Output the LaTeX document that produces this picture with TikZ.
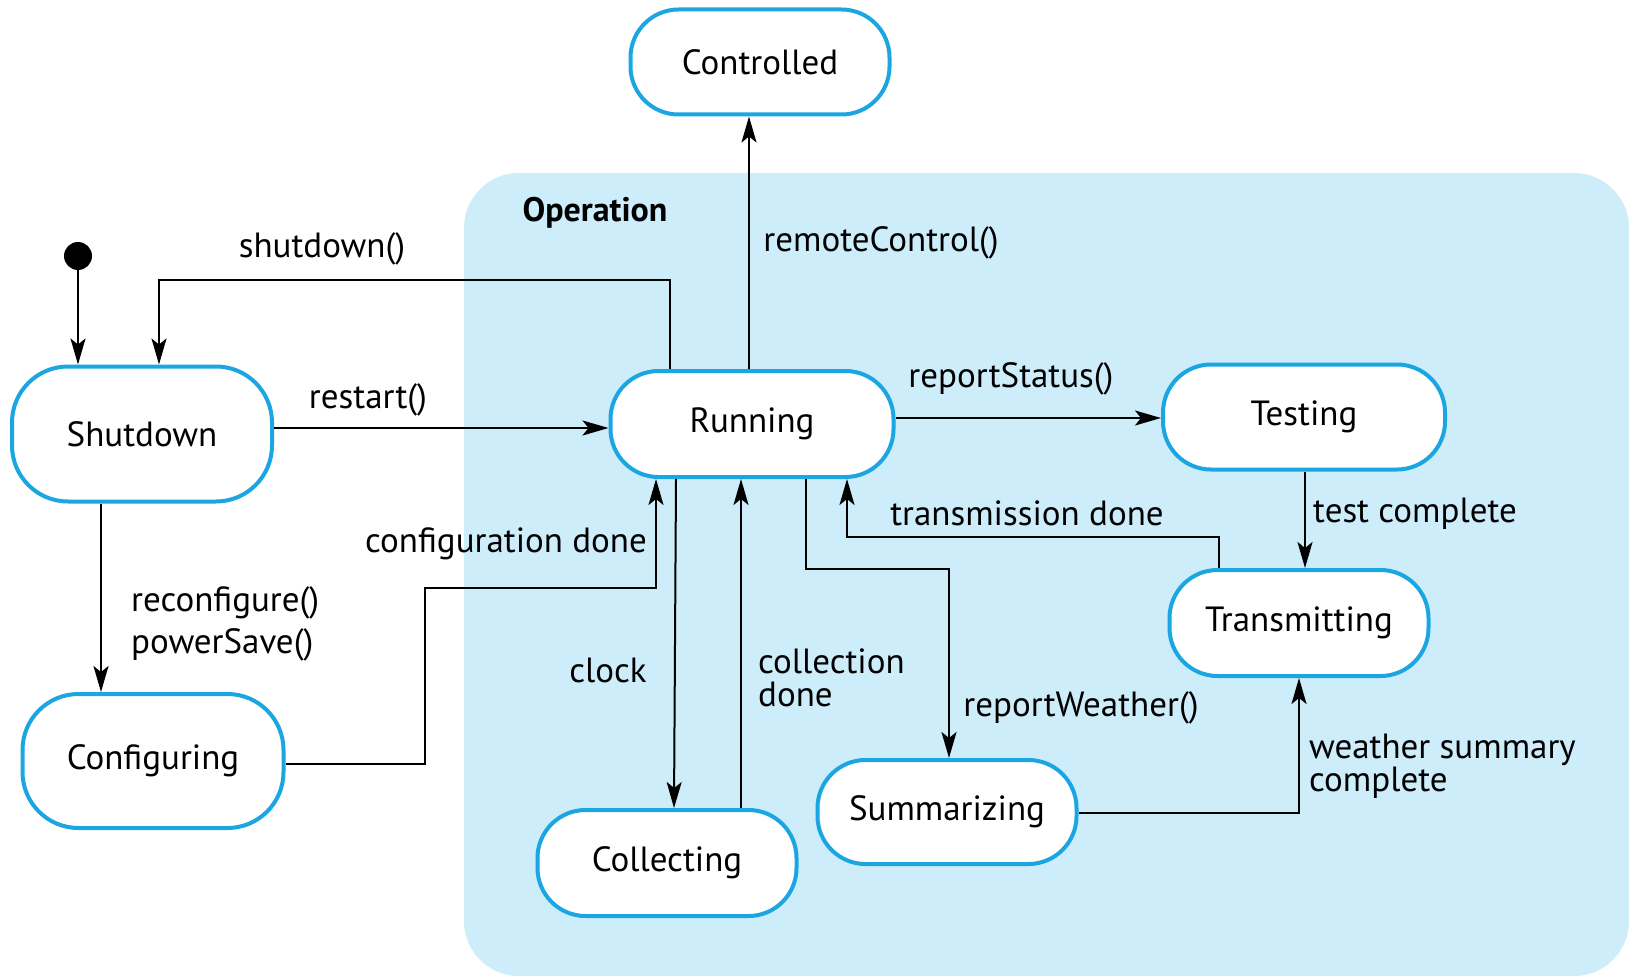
\documentclass[tikz,border=0pt]{standalone}
\usepackage{fontspec}
\setmainfont{PT Sans}
\usetikzlibrary{arrows.meta}
\definecolor{stateblue}{HTML}{1BA6E2}
\definecolor{opfill}{HTML}{CCEDF9}
\tikzset{
  statebox/.style={draw=stateblue, line width=4pt, fill=white, rounded corners=48pt,
    minimum width=259pt, minimum height=105pt, inner sep=0pt,
    font=\fontsize{35}{40}\selectfont},
  lbl/.style={font=\fontsize{35}{33}\selectfont, inner sep=0pt},
  conn/.style={line width=2pt, -{Stealth[length=26pt,width=15pt,inset=6pt]}},
  plain/.style={line width=2pt}
}
\begin{document}
\begin{tikzpicture}[x=1pt,y=-1pt]
\useasboundingbox (0,0) rectangle (1629,976);
% Operation superstate
\fill[opfill, rounded corners=55pt] (464,173) rectangle (1629,976);
\node[font=\fontsize{34}{36}\selectfont\bfseries, inner sep=0pt] (optitle) at (595,213) {Operation};

% states
\node[circle, fill=black, minimum size=28pt, inner sep=0pt] (init) at (78,256) {};
\node[statebox] (controlled) at (760,62) {Controlled};
\node[statebox, minimum width=260pt, minimum height=135pt, rounded corners=56pt] (shutdown) at (142,434) {Shutdown};
\node[statebox, minimum width=283pt, minimum height=106pt] (running) at (752,424) {Running};
\node[statebox, minimum width=282pt] (testing) at (1304,417) {Testing};
\node[statebox, minimum height=106pt] (transmitting) at (1299,623) {Transmitting};
\node[statebox, minimum width=261pt, minimum height=134pt, rounded corners=56pt] (configuring) at (153,761) {Configuring};
\node[statebox, minimum height=106pt] (collecting) at (667,863) {Collecting};
\node[statebox, minimum height=104pt] (summarizing) at (947,812) {Summarizing};

% connectors
\draw[conn] (init) -- (init |- shutdown.north);
\draw[conn] (running.north -| 670,0) -- (670,280) -- (159,280) -- (shutdown.north -| 159,0);
\draw[conn] (shutdown.east |- 0,428) -- (running.west |- 0,428);
\draw[conn] (running.north -| 749,0) -- (controlled.south -| 749,0);
\draw[conn] (running.east |- 0,418) -- (testing.west |- 0,418);
\draw[conn] (testing.south -| 1305,0) -- (transmitting.north -| 1305,0);
\draw[conn] (transmitting.north -| 1219,0) -- (1219,537) -- (847,537) -- (running.south -| 847,0);
\draw[conn] (running.south -| 806,0) -- (806,569) -- (949,569) -- (summarizing.north -| 949,0);
\draw[conn] (summarizing.east |- 0,813) -- (1299,813) -- (transmitting.south -| 1299,0);
\draw[conn] (running.south -| 676,0) -- (collecting.north -| 674,0);
\draw[conn] (collecting.north -| 741,0) -- (running.south -| 741,0);
\draw[conn] (configuring.east |- 0,764) -- (425,764) -- (425,588) -- (656,588) -- (running.south -| 656,0);
\draw[conn] (shutdown.south -| 101,0) -- (configuring.north -| 101,0);

% labels
\node[lbl] (lshutdown) at (322,249) {shutdown()};
\node[lbl] (lrestart) at (368,400) {restart()};
\node[lbl] (lremote) at (881,243) {remoteControl()};
\node[lbl] (lreport) at (1011,379) {reportStatus()};
\node[lbl] (ltest) at (1415,514) {test complete};
\node[lbl] (ltrans) at (1027,513) {transmission done};
\node[lbl] (lweather) at (1081,708) {reportWeather()};
\node[lbl, anchor=west, align=left] (lsummary) at (1309,766) {weather summary\\complete};
\node[lbl] (lclock) at (608,670) {clock};
\node[lbl, anchor=west, align=left] (lcoll) at (758,678) {collection\\done};
\node[lbl] (lconf) at (506,544) {configuration done};
\node[lbl, anchor=west, align=left, font=\fontsize{35}{42}\selectfont] (lreconf) at (131,624) {reconfigure()\\powerSave()};
\end{tikzpicture}
\end{document}
